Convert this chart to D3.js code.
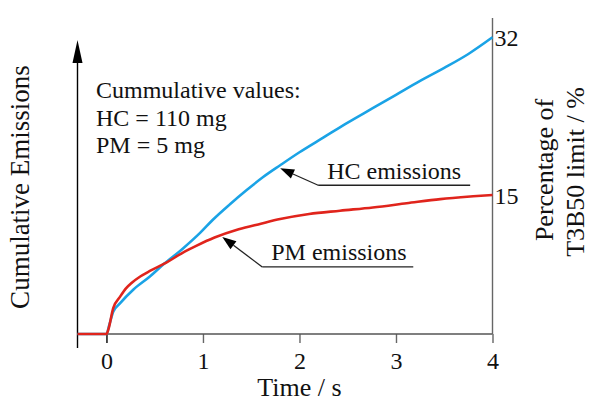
<!DOCTYPE html>
<html>
<head>
<meta charset="utf-8">
<script src="https://cdn.jsdelivr.net/npm/d3@7"></script>
<style>
  html, body { margin: 0; padding: 0; background: #fff; }
  svg { display: block; }
</style>
</head>
<body>
<script>
// Time axis (s)
const timeTicks = [0, 1, 2, 3, 4];
const timeDomain = [-0.3, 4];

// Cumulative HC emissions, % of T3B50 limit
const hcTime  = [-0.3, 0, 0.03, 0.07, 0.14, 0.28, 0.45, 0.6, 0.79, 0.97, 1.1, 1.28, 1.45, 1.62, 1.8, 2.0, 2.25, 2.5, 2.75, 3.0, 3.25, 3.5, 3.75, 4.0];
const hcValue = [0, 0, 1.0, 2.4, 3.3, 4.8, 6.2, 7.6, 9.2, 10.9, 12.3, 14.0, 15.5, 16.9, 18.2, 19.6, 21.2, 22.8, 24.3, 25.8, 27.3, 28.7, 30.2, 32];

// Cumulative PM emissions, % of T3B50 limit
const pmTime  = [-0.3, 0, 0.02, 0.07, 0.14, 0.2, 0.26, 0.35, 0.45, 0.62, 0.78, 0.93, 1.12, 1.37, 1.6, 1.8, 2.1, 2.42, 2.76, 3.11, 3.46, 3.8, 4.0];
const pmValue = [0, 0, 0.5, 2.8, 4.0, 4.9, 5.5, 6.2, 6.8, 7.7, 8.7, 9.5, 10.4, 11.3, 11.9, 12.4, 12.95, 13.3, 13.65, 14.1, 14.55, 14.85, 15];

// Final values marked on the right-hand axis
const endLabels = [32, 15];

// Summary text block
const summaryLines = ["Cummulative values:", "HC = 110 mg", "PM = 5 mg"];

// Curve call-outs: text, time of the arrow tip on the curve
const calloutText = ["HC emissions", "PM emissions"];
const calloutTime = [1.8, 1.2];

const FONT = "'Liberation Serif', 'Times New Roman', Tinos, 'DejaVu Serif', serif";

const W = 590, H = 402;
const svg = d3.select("body").append("svg").attr("width", W).attr("height", H)
  .style("font-family", FONT);

const x = d3.scaleLinear().domain(timeDomain).range([77.5, 492.5]);
const y = d3.scaleLinear().domain([0, 32]).range([334, 37.3]);

const colors = { hc: "#1aa3e6", pm: "#e0241c" };

function label(sel, size = 24) {
  return sel.style("font-family", FONT).attr("font-size", size).attr("fill", "#111");
}

// x axis
const xAxis = d3.axisBottom(x).tickValues(timeTicks).tickSize(9).tickPadding(9).tickFormat(d3.format("d"));
const gx = svg.append("g").attr("transform", `translate(0,${y(0)})`).call(xAxis);
gx.attr("font-family", null).attr("font-size", null);
gx.select(".domain").remove();
gx.selectAll(".tick line").attr("stroke", (d, i) => i === 0 ? "#000" : "#666").attr("stroke-width", 1.4);
label(gx.selectAll(".tick text"));

// baseline, left end tick and right axis
svg.append("line").attr("x1", x(timeDomain[0])).attr("x2", x(4)).attr("y1", y(0)).attr("y2", y(0))
  .attr("stroke", "#555").attr("stroke-width", 1.4);
svg.append("line").attr("x1", x(timeDomain[0])).attr("x2", x(timeDomain[0])).attr("y1", y(0)).attr("y2", y(0) + 14)
  .attr("stroke", "#000").attr("stroke-width", 1.4);
svg.append("line").attr("x1", x(4)).attr("x2", x(4)).attr("y1", 18).attr("y2", y(0))
  .attr("stroke", "#666").attr("stroke-width", 1.4);

// left axis with arrow head
svg.append("line").attr("x1", x(timeDomain[0])).attr("x2", x(timeDomain[0])).attr("y1", y(0)).attr("y2", 58)
  .attr("stroke", "#000").attr("stroke-width", 1.4);
svg.append("path")
  .attr("d", `M${x(timeDomain[0])},40 L${x(timeDomain[0]) - 5},63 L${x(timeDomain[0]) + 5},63 Z`)
  .attr("fill", "#000");

// curves
const line = d3.line().x(d => x(d[0])).y(d => y(d[1])).curve(d3.curveMonotoneX);
const hcData = hcTime.map((t, i) => [t, hcValue[i]]);
const pmData = pmTime.map((t, i) => [t, pmValue[i]]);

svg.append("path").datum(hcData).attr("d", line).attr("fill", "none")
  .attr("stroke", colors.hc).attr("stroke-width", 2.6).attr("stroke-linejoin", "round");
svg.append("path").datum(pmData).attr("d", line).attr("fill", "none")
  .attr("stroke", colors.pm).attr("stroke-width", 2.6).attr("stroke-linejoin", "round");

// end values on the right axis
label(svg.selectAll(".endlabel").data(endLabels).enter().append("text")
  .attr("x", x(4) + 2).attr("y", d => y(d) + 9)).text(d => d);

// axis titles
label(svg.append("text").attr("x", x(2)).attr("y", 396).attr("text-anchor", "middle"), 26).text("Time / s");
label(svg.append("text").attr("transform", "translate(29,187) rotate(-90)").attr("text-anchor", "middle"), 27)
  .text("Cumulative Emissions");
label(svg.append("text").attr("transform", "translate(553,170) rotate(-90)").attr("text-anchor", "middle"), 26)
  .text("Percentage of");
label(svg.append("text").attr("transform", "translate(584,172) rotate(-90)").attr("text-anchor", "middle"), 26)
  .text("T3B50 limit / %");

// summary block
label(svg.selectAll(".summary").data(summaryLines).enter().append("text")
  .attr("x", 96).attr("y", (d, i) => 98 + i * 27.5)).text(d => d);

// call-outs: arrow tip on the curve, leader line, underlined label
function valueAt(ts, vs, t) {
  const i = d3.bisectLeft(ts, t);
  if (ts[i] === t) return vs[i];
  const f = (t - ts[i - 1]) / (ts[i] - ts[i - 1]);
  return vs[i - 1] + f * (vs[i] - vs[i - 1]);
}
const callouts = [
  { text: calloutText[0], tx: x(calloutTime[0]), ty: y(valueAt(hcTime, hcValue, calloutTime[0])) + 3, dx: 38, dy: 17, w: 152 },
  { text: calloutText[1], tx: x(calloutTime[1]), ty: y(valueAt(pmTime, pmValue, calloutTime[1])) + 2, dx: 40, dy: 30, w: 151 }
];
callouts.forEach(c => {
  const ex = c.tx + c.dx, ey = c.ty + c.dy;
  const ang = Math.atan2(ey - c.ty, ex - c.tx);
  const len = 14, half = 5;
  const bx = c.tx + len * Math.cos(ang), by = c.ty + len * Math.sin(ang);
  const px = -Math.sin(ang) * half, py = Math.cos(ang) * half;
  svg.append("line").attr("x1", bx).attr("y1", by).attr("x2", ex).attr("y2", ey)
    .attr("stroke", "#222").attr("stroke-width", 1.3);
  svg.append("path").attr("d", `M${c.tx},${c.ty} L${bx + px},${by + py} L${bx - px},${by - py} Z`).attr("fill", "#000");
  svg.append("line").attr("x1", ex).attr("y1", ey).attr("x2", ex + c.w).attr("y2", ey)
    .attr("stroke", "#222").attr("stroke-width", 1.3);
  label(svg.append("text").attr("x", ex + 9).attr("y", ey - 6.5)).text(c.text);
});
</script>
</body>
</html>
